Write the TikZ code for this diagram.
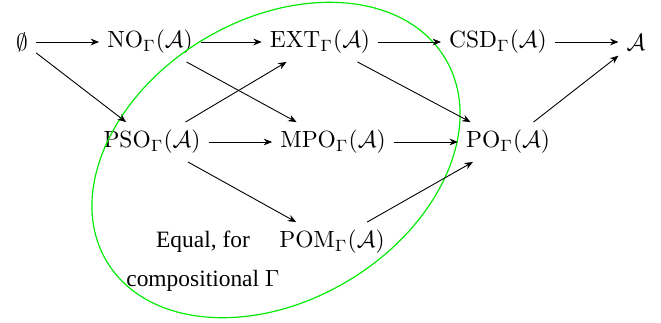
\documentclass[tikz,border=0pt]{standalone}
\usepackage[no-math]{fontspec}
\setmainfont{Liberation Serif}
\usepackage{tikz}
\usetikzlibrary{arrows.meta,positioning}
\definecolor{ringcolor}{RGB}{0,235,0}

\begin{document}
\begin{tikzpicture}[
			x=0.015cm, y=-0.015cm,
			class/.style={
				inner sep=3.3pt,
				font=\normalsize
			},
			note/.style={
				align=center,
				inner sep=1pt
			},
			flow/.style={
				-{Stealth[length=3.6pt,width=2.9pt]},
				line width=0.38pt,
				draw=black
			},
			ring/.style={
				draw=ringcolor,
				line width=0.5pt
			}
			]
			
			\useasboundingbox (0,0) rectangle (661,322);
			
			% Top row
			\node[class] (empty) at (22,42) {$\emptyset$};
			\node[class] (no) at (150,42) {$\mathrm{NO}_\Gamma(\mathcal{A})$};
			\node[class] (ext) at (320,42) {$\mathrm{EXT}_\Gamma(\mathcal{A})$};
			\node[class] (csd) at (498,42) {$\mathrm{CSD}_\Gamma(\mathcal{A})$};
			\node[class] (all) at (636,42) {$\mathcal{A}$};
			
			% Middle row
			\node[class] (pso) at (152,142) {$\mathrm{PSO}_\Gamma(\mathcal{A})$};
			\node[class] (mpo) at (333,142) {$\mathrm{MPO}_\Gamma(\mathcal{A})$};
			\node[class] (po) at (508,142) {$\mathrm{PO}_\Gamma(\mathcal{A})$};
			
			% Bottom row
			\node[class] (pom) at (332,242) {$\mathrm{POM}_\Gamma(\mathcal{A})$};
			\node[note] (equal) at (203,261) {Equal, for\\[4.5pt] compositional $\Gamma$};
			
			% Region of equal classes
			\coordinate (ringc) at (276,160);
			\draw[ring, rotate around={31:(ringc)}]
			(ringc) ellipse [x radius=2.96cm, y radius=2.11cm];
			
			% Arrows, top row
			\draw[flow] (empty) -- (no);
			\draw[flow] (no) -- (ext);
			\draw[flow] (ext) -- (csd);
			\draw[flow] (csd) -- (all);
			
			% Arrows, diagonals
			\draw[flow] (empty) -- (pso);
			\draw[flow] (no) -- (mpo);
			\draw[flow] (pso) -- (ext);
			\draw[flow] (ext) -- (po);
			\draw[flow] (po) -- (all);
			\draw[flow] (pso) -- (pom);
			\draw[flow] (pom) -- (po);
			
			% Arrows, middle row
			\draw[flow] (pso) -- (mpo);
			\draw[flow] (mpo) -- (po);
			
\end{tikzpicture}
\end{document}
